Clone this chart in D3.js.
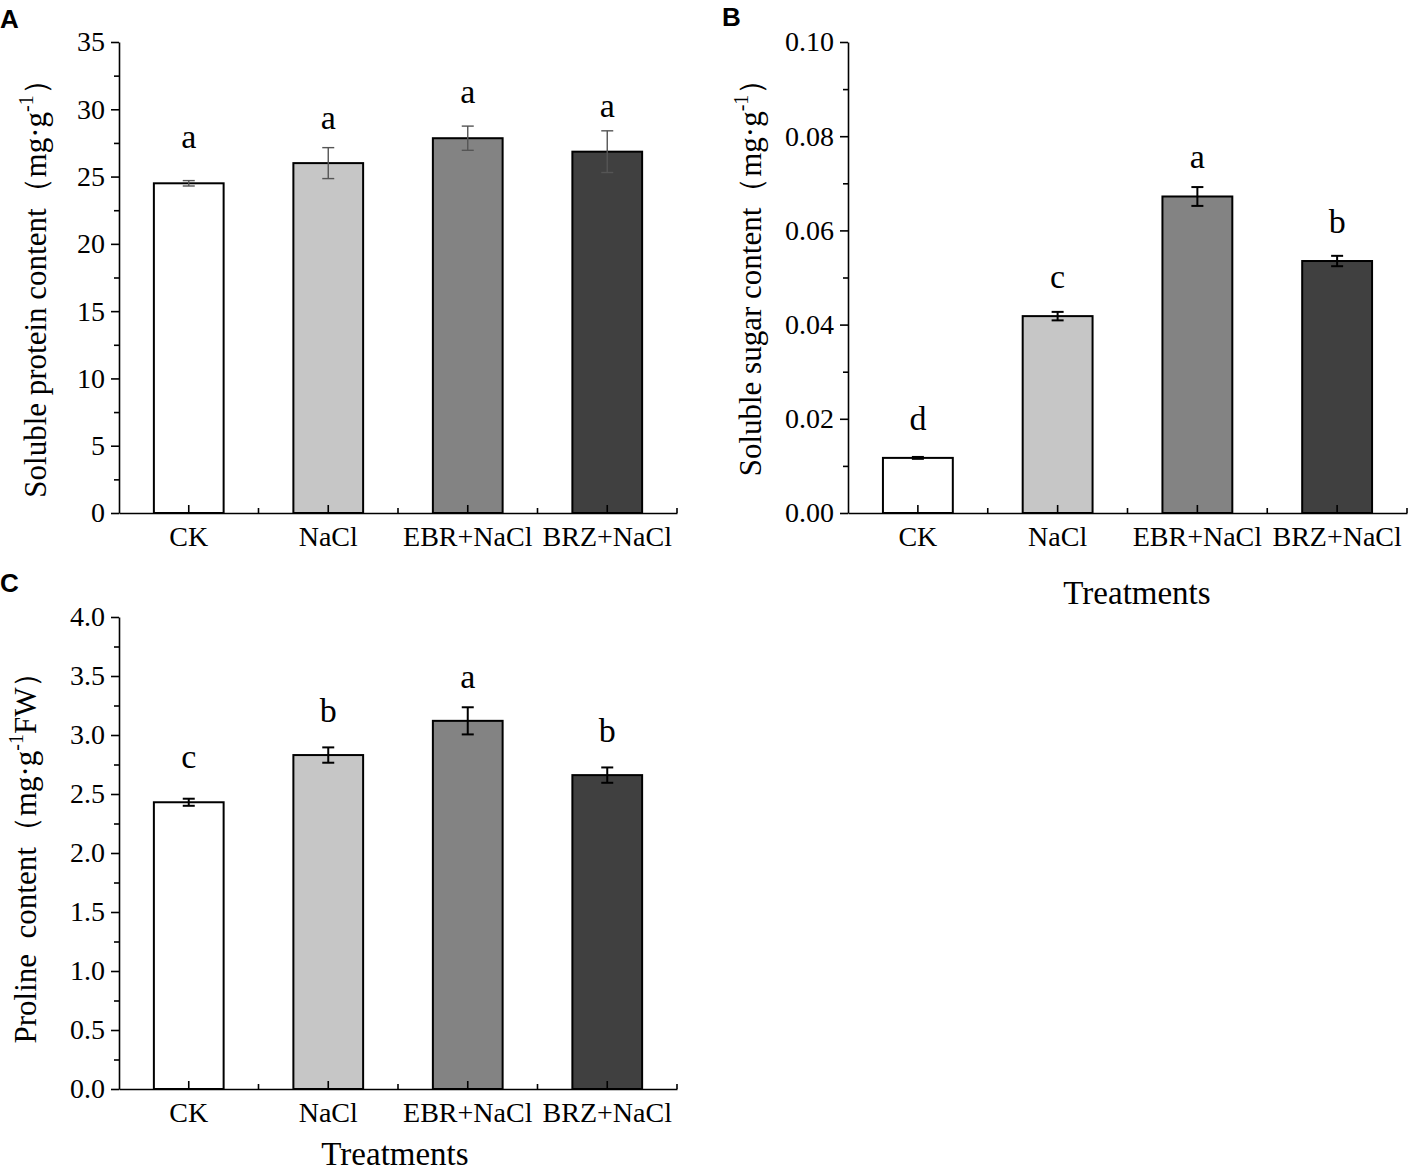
<!DOCTYPE html>
<html lang="en">
  <head>
    <meta charset="utf-8" />
    <title>Soluble protein, sugar and proline content</title>
    <script src="https://d3js.org/d3.v7.js"></script>
    <style>
      body { margin: 0; background: #fff; }
      text { font-family: "Liberation Serif", "Times New Roman", serif; fill: #000; }
      .panel-tag { font-family: "Liberation Sans", Arial, sans-serif; font-weight: bold; }
      .axis path, .axis line { stroke: #000; stroke-width: 1.6; }
    </style>
  </head>
  <body>
    <script>

    // data
    var categories = ["CK", "NaCl", "EBR+NaCl", "BRZ+NaCl"];
    var barFills = ["#ffffff", "#c6c6c6", "#838383", "#404040"];

    var proteinMean = [24.5, 26.0, 27.85, 26.85];
    var proteinErr = [0.2, 1.15, 0.9, 1.55];
    var proteinLetters = ["a", "a", "a", "a"];
    var proteinLetterAt = [27.1, 28.5, 30.5, 29.4];
    var proteinTicks = [0, 5, 10, 15, 20, 25, 30, 35];

    var sugarMean = [0.0117, 0.0418, 0.0672, 0.0535];
    var sugarErr = [0.0002, 0.0009, 0.002, 0.0011];
    var sugarLetters = ["d", "c", "a", "b"];
    var sugarLetterAt = [0.0176, 0.0478, 0.0732, 0.0594];
    var sugarTicks = [0, 0.02, 0.04, 0.06, 0.08, 0.10];

    var prolineMean = [2.43, 2.83, 3.12, 2.66];
    var prolineErr = [0.03, 0.065, 0.115, 0.065];
    var prolineLetters = ["c", "b", "a", "b"];
    var prolineLetterAt = [2.72, 3.11, 3.40, 2.94];
    var prolineTicks = [0, 0.5, 1.0, 1.5, 2.0, 2.5, 3.0, 3.5, 4.0];

    var svg = d3.select("body")
      .append("svg")
        .attr("width", 1411)
        .attr("height", 1171);

    // draws one bar panel
    function panel(opt) {
      var g = svg.append("g");
      var step = opt.ticks[1] - opt.ticks[0];
      var top = opt.ticks[opt.ticks.length - 1];

      var x = d3.scaleBand()
        .domain(categories)
        .range([opt.left, opt.right])
        .paddingInner(0.5)
        .paddingOuter(0.25);

      var y = d3.scaleLinear()
        .domain([0, top])
        .range([opt.bottom, opt.top]);

      var minor = d3.range(0, opt.ticks.length - 1).map(i => opt.ticks[i] + step / 2);
      var bandEdges = categories.map(c => x(c) + x.bandwidth() / 2 + x.step() / 2);

      // bars
      g.selectAll("rect.bar")
        .data(opt.mean)
        .join("rect")
          .attr("class", "bar")
          .attr("x", (d, i) => x(categories[i]))
          .attr("y", d => y(d))
          .attr("width", x.bandwidth())
          .attr("height", d => y(0) - y(d))
          .attr("fill", (d, i) => barFills[i])
          .attr("stroke", "#000")
          .attr("stroke-width", 2);

      // error bars
      var cap = opt.cap;
      var eb = g.selectAll("g.err")
        .data(opt.mean)
        .join("g")
          .attr("class", "err")
          .attr("stroke", opt.errColor)
          .attr("stroke-width", opt.errWidth);
      eb.append("line")
        .attr("x1", (d, i) => x(categories[i]) + x.bandwidth() / 2)
        .attr("x2", (d, i) => x(categories[i]) + x.bandwidth() / 2)
        .attr("y1", (d, i) => y(d - opt.err[i]))
        .attr("y2", (d, i) => y(d + opt.err[i]));
      eb.append("line")
        .attr("x1", (d, i) => x(categories[i]) + x.bandwidth() / 2 - cap)
        .attr("x2", (d, i) => x(categories[i]) + x.bandwidth() / 2 + cap)
        .attr("y1", (d, i) => y(d + opt.err[i]))
        .attr("y2", (d, i) => y(d + opt.err[i]));
      eb.append("line")
        .attr("x1", (d, i) => x(categories[i]) + x.bandwidth() / 2 - cap)
        .attr("x2", (d, i) => x(categories[i]) + x.bandwidth() / 2 + cap)
        .attr("y1", (d, i) => y(d - opt.err[i]))
        .attr("y2", (d, i) => y(d - opt.err[i]));

      // significance letters
      g.selectAll("text.sig")
        .data(opt.letters)
        .join("text")
          .attr("class", "sig")
          .attr("x", (d, i) => x(categories[i]) + x.bandwidth() / 2)
          .attr("y", (d, i) => y(opt.letterAt[i]))
          .attr("text-anchor", "middle")
          .attr("font-size", 34)
          .text(d => d);

      // y axis, major + minor ticks pointing out
      var yAxis = g.append("g")
        .attr("class", "axis")
        .attr("transform", `translate(${opt.left},0)`)
        .call(d3.axisLeft(y).tickValues(opt.ticks).tickFormat(d3.format(opt.fmt))
          .tickSize(8).tickSizeOuter(0).tickPadding(6));
      yAxis.selectAll("text").attr("font-size", 28).attr("font-family", "Liberation Serif").attr("fill", "#000");
      g.append("g")
        .attr("class", "axis")
        .attr("transform", `translate(${opt.left},0)`)
        .call(d3.axisLeft(y).tickValues(minor).tickFormat("").tickSize(5).tickSizeOuter(0))
        .select(".domain").remove();

      // x axis, ticks pointing in
      var xAxis = g.append("g")
        .attr("class", "axis")
        .attr("transform", `translate(0,${opt.bottom})`)
        .call(d3.axisBottom(x).tickSize(-8).tickSizeOuter(0).tickPadding(13));
      xAxis.selectAll("text").attr("font-size", 28).attr("font-family", "Liberation Serif").attr("fill", "#000");
      xAxis.selectAll(".tick text").attr("dy", "0.71em");
      g.append("g")
        .attr("class", "axis")
        .attr("transform", `translate(0,${opt.bottom})`)
        .selectAll("line")
        .data(bandEdges)
        .join("line")
          .attr("x1", d => d)
          .attr("x2", d => d)
          .attr("y1", 0)
          .attr("y2", -5);

      // y label, rotated
      var yl = g.append("text")
        .attr("transform", `translate(${opt.labelX},${opt.labelY}) rotate(-90)`)
        .attr("text-anchor", "middle")
        .attr("font-size", 31);
      yl.append("tspan").text(opt.label + "（mg·g");
      yl.append("tspan").attr("font-size", 20).attr("dy", -13).text("-1");
      yl.append("tspan").attr("dy", 13).text(opt.unitTail + "）");

      // x title
      if (opt.xTitleY) {
        g.append("text")
          .attr("x", opt.xTitleX)
          .attr("y", opt.xTitleY)
          .attr("text-anchor", "middle")
          .attr("font-size", 33)
          .text("Treatments");
      }

      g.append("text")
        .attr("class", "panel-tag")
        .attr("x", opt.tagX)
        .attr("y", opt.tagY)
        .attr("font-size", 26)
        .text(opt.tag);
    }

    panel({
      tag: "A", tagX: 0, tagY: 28,
      left: 119, right: 677, top: 42, bottom: 513,
      mean: proteinMean, err: proteinErr, letters: proteinLetters, letterAt: proteinLetterAt,
      ticks: proteinTicks, fmt: "d",
      errColor: "#555", errWidth: 1.4, cap: 6,
      label: "Soluble protein content", unitTail: "", labelX: 46, labelY: 281
    });

    panel({
      tag: "B", tagX: 722, tagY: 26,
      left: 848, right: 1407, top: 42, bottom: 513,
      mean: sugarMean, err: sugarErr, letters: sugarLetters, letterAt: sugarLetterAt,
      ticks: sugarTicks, fmt: ".2f",
      errColor: "#000", errWidth: 2, cap: 6,
      label: "Soluble sugar content", unitTail: "", labelX: 761, labelY: 270,
      xTitleX: 1137, xTitleY: 604
    });

    panel({
      tag: "C", tagX: 0, tagY: 592,
      left: 119, right: 677, top: 617, bottom: 1089,
      mean: prolineMean, err: prolineErr, letters: prolineLetters, letterAt: prolineLetterAt,
      ticks: prolineTicks, fmt: ".1f",
      errColor: "#000", errWidth: 2, cap: 6,
      label: "Proline\u00a0 content", unitTail: "FW", labelX: 36, labelY: 850,
      xTitleX: 395, xTitleY: 1165
    });

    </script>
  </body>
</html>
